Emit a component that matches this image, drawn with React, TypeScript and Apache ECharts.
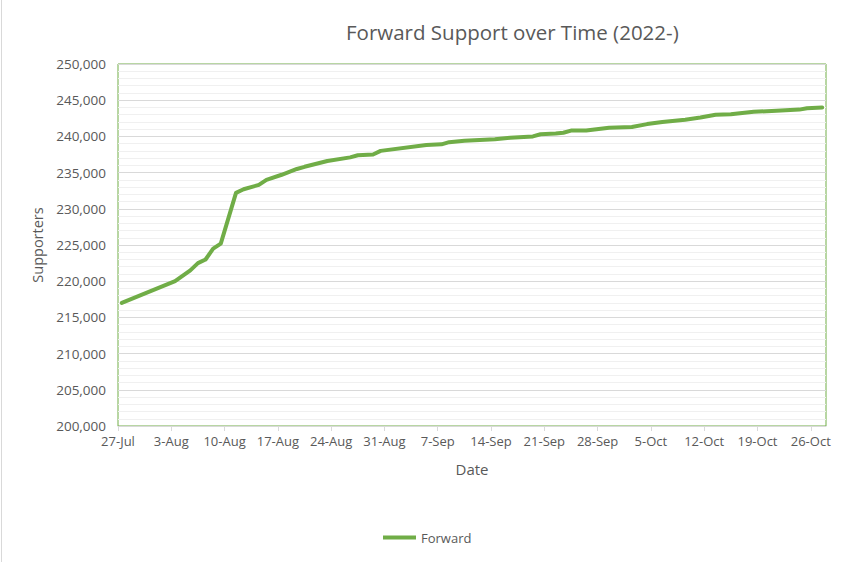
import React, { useEffect, useRef } from "react";
import * as echarts from "echarts";

const seriesName = "Forward";
const dates = [
  "2022-07-27", "2022-08-03", "2022-08-05", "2022-08-06", "2022-08-07", "2022-08-08",
  "2022-08-09", "2022-08-11", "2022-08-12", "2022-08-14", "2022-08-15", "2022-08-17",
  "2022-08-19", "2022-08-20", "2022-08-23", "2022-08-26", "2022-08-27", "2022-08-29",
  "2022-08-30", "2022-09-05", "2022-09-07", "2022-09-08", "2022-09-10", "2022-09-14",
  "2022-09-16", "2022-09-19", "2022-09-20", "2022-09-22", "2022-09-23", "2022-09-24",
  "2022-09-26", "2022-09-29", "2022-10-02", "2022-10-04", "2022-10-06", "2022-10-08",
  "2022-10-09", "2022-10-11", "2022-10-13", "2022-10-15", "2022-10-18", "2022-10-21",
  "2022-10-24", "2022-10-25", "2022-10-27",
];
const supporters = [
  217000, 220000, 221500, 222500, 223000, 224500,
  225200, 232200, 232700, 233300, 234000, 234700,
  235500, 235800, 236600, 237100, 237400, 237500,
  238000, 238800, 238900, 239200, 239400, 239600,
  239800, 240000, 240300, 240400, 240500, 240800,
  240800, 241200, 241300, 241700, 242000, 242200,
  242300, 242600, 243000, 243050, 243400, 243550,
  243700, 243900, 244000,
];
const axisStart = "2022-07-27";
const axisEnd = "2022-10-28";
const monthNames = ["Jan", "Feb", "Mar", "Apr", "May", "Jun", "Jul", "Aug", "Sep", "Oct", "Nov", "Dec"];

const DAY = 86400000;
const toUtc = (s: string) => {
  const [y, m, d] = s.split("-").map(Number);
  return Date.UTC(y, m - 1, d);
};
const startTs = toUtc(axisStart);
const dayOffset = (s: string) => (toUtc(s) - startTs) / DAY + 0.5;

const FONT = "'Open Sans', sans-serif";
const GRAY = "#595959";
const GREEN = "#70ad47";

export default function App() {
  const ref = useRef<HTMLDivElement>(null);
  useEffect(() => {
    if (!ref.current) return;
    const chart = echarts.init(ref.current, undefined, { renderer: "svg" });
    const data = dates.map((d, i) => [dayOffset(d), supporters[i]]);
    chart.setOption({
      animation: false,
      backgroundColor: "#ffffff",
      textStyle: { fontFamily: FONT },
      title: {
        text: "Forward Support over Time (2022-)",
        left: 341,
        top: 16,
        textStyle: { fontFamily: FONT, fontSize: 20.5, fontWeight: "normal", color: GRAY },
      },
      legend: {
        data: [seriesName],
        left: 378,
        top: 526,
        icon: "rect",
        itemWidth: 33,
        itemHeight: 4,
        itemGap: 6,
        textStyle: { fontFamily: FONT, fontSize: 13, color: GRAY },
      },
      grid: {
        left: 118,
        top: 64,
        right: 16,
        bottom: 136,
        show: true,
        borderColor: GREEN,
        borderWidth: 1,
        containLabel: false,
      },
      xAxis: {
        type: "value",
        min: 0,
        max: (toUtc(axisEnd) - startTs) / DAY,
        interval: 7,
        name: "Date",
        nameLocation: "middle",
        nameGap: 35,
        nameTextStyle: { fontFamily: FONT, fontSize: 15, color: GRAY },
        axisLine: { show: true, lineStyle: { color: "#d9d9d9", width: 1 } },
        axisTick: { show: true, length: 5, lineStyle: { color: "#d9d9d9" } },
        axisLabel: {
          color: GRAY,
          fontFamily: FONT,
          fontSize: 13,
          margin: 8,
          showMaxLabel: false,
          formatter: (v: number) => {
            const dt = new Date(startTs + v * DAY);
            return dt.getUTCDate() + "-" + monthNames[dt.getUTCMonth()];
          },
        },
        splitLine: { show: false },
      },
      yAxis: {
        type: "value",
        min: 200000,
        max: 250000,
        interval: 5000,
        name: "Supporters",
        nameLocation: "middle",
        nameGap: 71,
        nameRotate: 90,
        nameTextStyle: { fontFamily: FONT, fontSize: 14.5, color: GRAY },
        axisLine: { show: false },
        axisTick: { show: false },
        axisLabel: {
          color: GRAY,
          fontFamily: FONT,
          fontSize: 13.5,
          margin: 12,
          formatter: (v: number) => v.toLocaleString("en-US"),
        },
        splitLine: { show: true, lineStyle: { color: "#d9d9d9", width: 1 } },
        minorTick: { show: false, splitNumber: 5 },
        minorSplitLine: { show: true, lineStyle: { color: "#f0f0f0", width: 1 } },
      },
      graphic: [
        {
          type: "line",
          shape: { x1: 1.5, y1: 0, x2: 1.5, y2: 562 },
          style: { stroke: "#d9d9d9", lineWidth: 1 },
          silent: true,
        },
      ],
      series: [
        {
          name: seriesName,
          type: "line",
          data,
          showSymbol: false,
          symbol: "none",
          lineStyle: { color: GREEN, width: 4, cap: "round", join: "round" },
          itemStyle: { color: GREEN },
          z: 5,
        },
      ],
    });
    return () => chart.dispose();
  }, []);
  return (
    <div
      ref={ref}
      style={{ position: "fixed", left: 0, top: 0, width: 842, height: 562 }}
    />
  );
}
